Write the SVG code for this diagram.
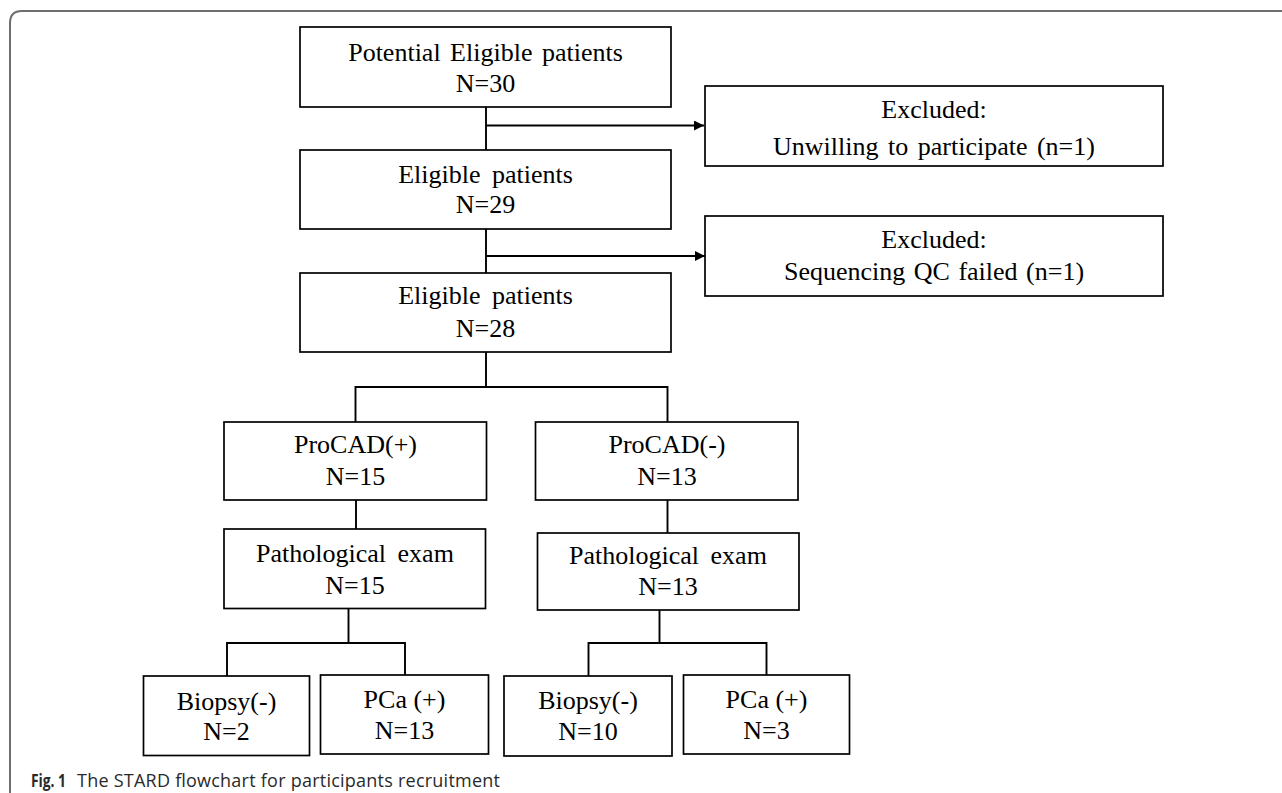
<svg xmlns="http://www.w3.org/2000/svg" width="1282" height="793" viewBox="0 0 1282 793">
<style>
.box{fill:#fff;stroke:#000;stroke-width:1.7}
.t{font-family:"Liberation Serif","Times New Roman",serif;font-size:26px;fill:#000;text-anchor:middle}
.c{fill:none;stroke:#000;stroke-width:1.9}
.cap{font-family:"Open Sans","Noto Sans",sans-serif;font-size:18px;fill:#2a2a2a}
</style>
<defs>
<marker id="ah" viewBox="0 0 10 10" refX="10" refY="5" markerWidth="10" markerHeight="10" markerUnits="userSpaceOnUse" orient="auto">
<path d="M0,0 L10,5 L0,10 z" fill="#000"/>
</marker>
</defs>
<rect width="1282" height="793" fill="#fff"/>
<path d="M10,800 V23 Q10,11 22,11 H1290" fill="none" stroke="#6e6e6e" stroke-width="2"/>

<g id="connectors">
<path class="c" d="M486,107 V150"/>
<path class="c" d="M486,125.5 H704" marker-end="url(#ah)"/>
<path class="c" d="M486,229 V273"/>
<path class="c" d="M486,256 H705" marker-end="url(#ah)"/>
<path class="c" d="M486,352 V387 M355.5,422 V387 H667.5 V422"/>
<path class="c" d="M356,500 V529"/>
<path class="c" d="M667.5,500 V533"/>
<path class="c" d="M348.5,608.5 V643 M227,676 V643 H405 V675"/>
<path class="c" d="M659.5,610 V643 M588.5,676 V643 H766.5 V675"/>
</g>

<g id="n_potential">
<rect class="box" x="300" y="27" width="371" height="80"/>
<text class="t" x="485.5" y="61" word-spacing="3">Potential Eligible patients</text>
<text class="t" x="485.5" y="92">N=30</text>
</g>
<g id="n_excl1">
<rect class="box" x="705" y="86" width="458" height="80"/>
<text class="t" x="934" y="118">Excluded:</text>
<text class="t" x="934" y="155" word-spacing="3">Unwilling to participate (n=1)</text>
</g>
<g id="n_elig29">
<rect class="box" x="300" y="150" width="371" height="79"/>
<text class="t" x="485.5" y="183" word-spacing="5">Eligible patients</text>
<text class="t" x="485.5" y="213">N=29</text>
</g>
<g id="n_excl2">
<rect class="box" x="705" y="216" width="458" height="80"/>
<text class="t" x="934" y="248">Excluded:</text>
<text class="t" x="934" y="280" word-spacing="2">Sequencing QC failed (n=1)</text>
</g>
<g id="n_elig28">
<rect class="box" x="300" y="273" width="371" height="79"/>
<text class="t" x="485.5" y="304" word-spacing="5">Eligible patients</text>
<text class="t" x="485.5" y="337">N=28</text>
</g>
<g id="n_procad_pos">
<rect class="box" x="224" y="422" width="262.5" height="78"/>
<text class="t" x="355.5" y="453">ProCAD(+)</text>
<text class="t" x="355.5" y="485">N=15</text>
</g>
<g id="n_procad_neg">
<rect class="box" x="535.5" y="422" width="262.5" height="78"/>
<text class="t" x="667" y="453">ProCAD(-)</text>
<text class="t" x="667" y="485">N=13</text>
</g>
<g id="n_path_pos">
<rect class="box" x="224" y="529" width="261.5" height="79.5"/>
<text class="t" x="355" y="562" word-spacing="5">Pathological exam</text>
<text class="t" x="355" y="594">N=15</text>
</g>
<g id="n_path_neg">
<rect class="box" x="537.5" y="533" width="261.5" height="77"/>
<text class="t" x="668" y="564" word-spacing="5">Pathological exam</text>
<text class="t" x="668" y="595">N=13</text>
</g>
<g id="n_biopsy1">
<rect class="box" x="143.5" y="676" width="166" height="79.5"/>
<text class="t" x="226.5" y="710">Biopsy(-)</text>
<text class="t" x="226.5" y="740">N=2</text>
</g>
<g id="n_pca1">
<rect class="box" x="320.5" y="675" width="168" height="79"/>
<text class="t" x="404.5" y="708">PCa (+)</text>
<text class="t" x="404.5" y="739">N=13</text>
</g>
<g id="n_biopsy2">
<rect class="box" x="504" y="676" width="168" height="80"/>
<text class="t" x="588" y="709">Biopsy(-)</text>
<text class="t" x="588" y="740">N=10</text>
</g>
<g id="n_pca2">
<rect class="box" x="683.5" y="675" width="166" height="79"/>
<text class="t" x="766.5" y="708">PCa (+)</text>
<text class="t" x="766.5" y="739">N=3</text>
</g>

<text class="cap" x="31" y="787" font-size="16" font-weight="bold" fill="#000" textLength="35" lengthAdjust="spacingAndGlyphs">Fig. 1</text>
<text class="cap" x="77" y="787" textLength="423" lengthAdjust="spacing">The STARD flowchart for participants recruitment</text>
</svg>
